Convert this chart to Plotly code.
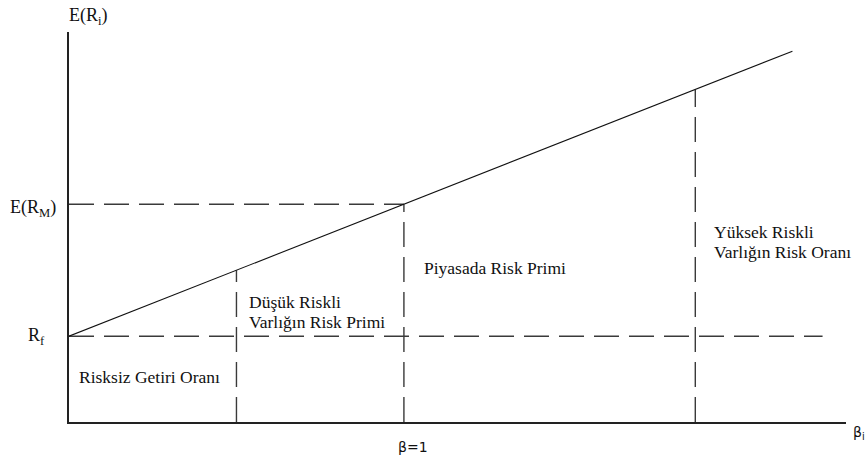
import plotly.graph_objects as go

# Security market line (beta vs expected return)
SML_BETA = [0.0, 0.5, 1.0, 1.87, 2.16]
SML_RETURN = [0.65, 1.15, 1.65, 2.52, 2.81]

RISK_FREE = 0.65
MARKET_RETURN = 1.65
BETA_LOW = 0.5
BETA_MARKET = 1.0
BETA_HIGH = 1.87
RF_LINE_END = 2.25

AREA_LABELS = [
    "Risksiz Getiri Oranı",
    "Düşük Riskli<br>Varlığın Risk Primi",
    "Piyasada Risk Primi",
    "Yüksek Riskli<br>Varlığın Risk Oranı",
]
LABEL_BETA = [0.024, 0.531, 1.054, 1.919]
LABEL_RETURN = [0.34, 0.836, 1.167, 1.366]

SERIF = "Liberation Serif, Times New Roman, DejaVu Serif, serif"
DASH = "25px,10px"
DASH_COLOR = "#3a3a3a"
LINE_GAP = 20  # px between the two lines of a label


def dashed(x, y):
    return go.Scatter(x=x, y=y, mode="lines", hoverinfo="skip",
                      line=dict(color=DASH_COLOR, width=1.4, dash=DASH))


fig = go.Figure()

# horizontal guides
fig.add_trace(dashed([0, RF_LINE_END], [RISK_FREE, RISK_FREE]))
fig.add_trace(dashed([0, BETA_MARKET], [MARKET_RETURN, MARKET_RETURN]))

# vertical guides from the x axis up to the line
sml_at = dict(zip(SML_BETA, SML_RETURN))
for b in [BETA_LOW, BETA_MARKET, BETA_HIGH]:
    fig.add_trace(dashed([b, b], [0, sml_at[b]]))

fig.add_trace(go.Scatter(x=SML_BETA, y=SML_RETURN, mode="lines",
                         hoverinfo="skip", line=dict(color="#111111", width=1.1)))

for text, bx, ry in zip(AREA_LABELS, LABEL_BETA, LABEL_RETURN):
    rows = text.split("<br>")
    for i, row in enumerate(rows):
        shift = ((len(rows) - 1) / 2 - i) * LINE_GAP
        fig.add_annotation(x=bx, y=ry, xref="x", yref="y", text=row,
                           showarrow=False, xanchor="left", yanchor="middle",
                           yshift=shift,
                           font=dict(family=SERIF, size=17.5, color="#111111"))

# axis labels
fig.add_annotation(x=-0.0026, y=1.041, xref="paper", yref="paper",
                   text="E(R<sub>i</sub>)", showarrow=False,
                   xanchor="left", yanchor="middle",
                   font=dict(family=SERIF, size=18, color="#111111"))
fig.add_annotation(x=0, y=MARKET_RETURN, xref="paper", yref="y",
                   text="E(R<sub>M</sub>)", showarrow=False, xshift=-11, yshift=-4,
                   xanchor="right", yanchor="middle",
                   font=dict(family=SERIF, size=18, color="#111111"))
fig.add_annotation(x=0, y=RISK_FREE, xref="paper", yref="y",
                   text="R<sub>f</sub>", showarrow=False, xshift=-22,
                   xanchor="right", yanchor="middle",
                   font=dict(family=SERIF, size=18, color="#111111"))
fig.add_annotation(x=BETA_MARKET, y=-0.064, xref="x", yref="paper",
                   text="β=1", showarrow=False, xshift=9,
                   xanchor="center", yanchor="middle",
                   font=dict(family="DejaVu Sans", size=14, color="#111111"))
fig.add_annotation(x=1, y=-0.028, xref="paper", yref="paper",
                   text="β<sub>i</sub>", showarrow=False, xshift=21,
                   xanchor="right", yanchor="middle",
                   font=dict(family="DejaVu Sans", size=14, color="#111111"))

axis_style = dict(showgrid=False, zeroline=False, showticklabels=False,
                  ticks="", showline=True, linecolor="#222222", linewidth=1.5,
                  fixedrange=True)

fig.update_layout(
    width=868,
    height=461,
    margin=dict(l=69, r=22, t=32, b=39),
    plot_bgcolor="white",
    paper_bgcolor="white",
    showlegend=False,
    hovermode=False,
    xaxis=dict(range=[0, 2.32], **axis_style),
    yaxis=dict(range=[0, 2.955], **axis_style),
)

# drop the browser's default page margin so the figure sits at the corner
fig.write_html("out.html", config={"displayModeBar": False},
               post_script="document.body.style.margin = '0';")
